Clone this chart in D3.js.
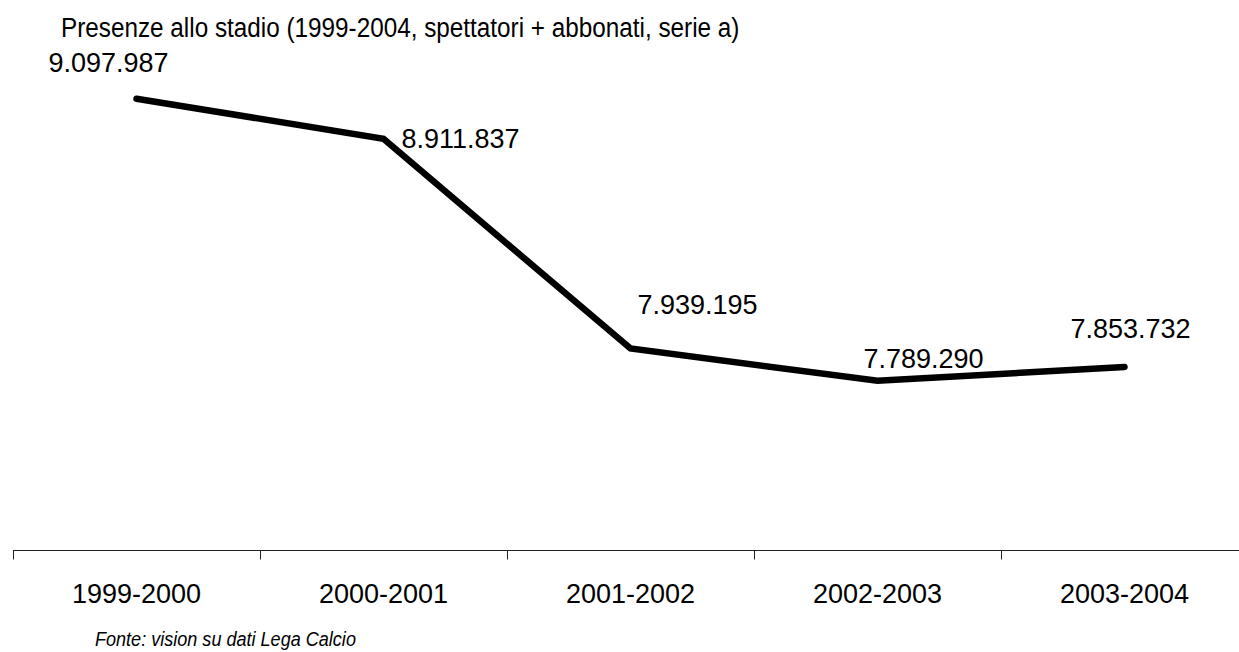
<!DOCTYPE html>
<html lang="it">
<head>
<meta charset="UTF-8">
<title>Presenze allo stadio</title>
<script src="https://d3js.org/d3.v7.min.js"></script>
<style>
    body { margin: 0; background: #fff; }
    text { font-family: "Liberation Sans", Arial, sans-serif; fill: #000; }
</style>
</head>
<body>
<svg width="1239" height="652"></svg>
<script>
    // dati
    var stagioni = ["1999-2000", "2000-2001", "2001-2002", "2002-2003", "2003-2004"];
    var presenze = [9097987, 8911837, 7939195, 7789290, 7853732];
    var etichette = ["9.097.987", "8.911.837", "7.939.195", "7.789.290", "7.853.732"];

    // piccoli spostamenti delle etichette rispetto al punto (come nell'originale)
    var labelOffset = [[-88, -27], [18, 9], [7, -35], [-14, -13], [-54, -29]];

    var svg = d3.select("svg");
    var axisY = 551;

    var x = d3.scaleBand().domain(stagioni).range([13, 1248]).padding(0);
    var y = d3.scaleLinear().domain([7000000, 9500000]).range([axisY, 12]);

    var data = stagioni.map(function(s, i) {
        return { stagione: s, valore: presenze[i], label: etichette[i] };
    });

    function cx(d) { return x(d.stagione) + x.bandwidth() / 2; }

    // titolo (carattere un po' stretto come nell'originale)
    svg.append("text")
        .attr("transform", "translate(61,37) scale(0.9,1)")
        .attr("font-size", "27px")
        .text("Presenze allo stadio (1999-2004, spettatori + abbonati, serie a)");

    // asse x
    var g = svg.append("g").attr("transform", "translate(0," + (axisY - 0.5) + ")");
    g.append("line")
        .attr("x1", 13).attr("x2", 1248)
        .attr("stroke", "#222").attr("stroke-width", 1);
    g.selectAll(".tick")
        .data(stagioni)
        .enter().append("line")
        .attr("class", "tick")
        .attr("x1", function(d) { return Math.round(x(d)) + 0.5; })
        .attr("x2", function(d) { return Math.round(x(d)) + 0.5; })
        .attr("y1", 0).attr("y2", 9)
        .attr("stroke", "#222").attr("stroke-width", 1);

    svg.selectAll(".cat")
        .data(stagioni)
        .enter().append("text")
        .attr("class", "cat")
        .attr("x", function(d) { return x(d) + x.bandwidth() / 2; })
        .attr("y", 603)
        .attr("text-anchor", "middle")
        .attr("font-size", "27px")
        .text(function(d) { return d; });

    // linea
    var line = d3.line()
        .x(cx)
        .y(function(d) { return y(d.valore); });

    svg.append("path")
        .datum(data)
        .attr("d", line)
        .attr("fill", "none")
        .attr("stroke", "#000")
        .attr("stroke-width", 6.5)
        .attr("stroke-linecap", "round")
        .attr("stroke-linejoin", "miter");

    // etichette valori
    svg.selectAll(".val")
        .data(data)
        .enter().append("text")
        .attr("class", "val")
        .attr("x", function(d, i) { return cx(d) + labelOffset[i][0]; })
        .attr("y", function(d, i) { return y(d.valore) + labelOffset[i][1]; })
        .attr("font-size", "27px")
        .text(function(d) { return d.label; });

    // fonte
    svg.append("text")
        .attr("transform", "translate(95,646) scale(0.86,1)")
        .attr("font-size", "21px")
        .attr("font-style", "italic")
        .text("Fonte: vision su dati Lega Calcio");
</script>
</body>
</html>
